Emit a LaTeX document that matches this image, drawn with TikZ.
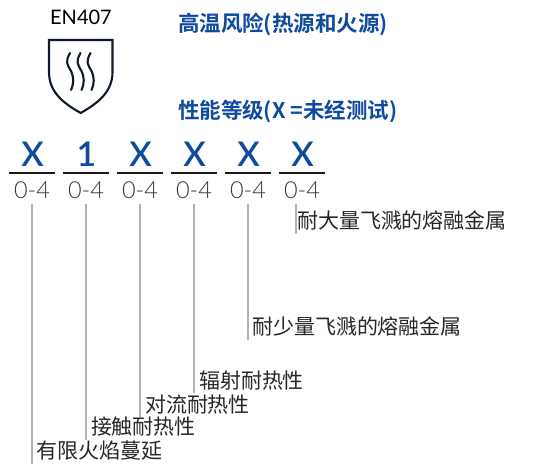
\documentclass[tikz,border=0pt]{standalone}
\usepackage{fontspec}
\setmainfont{Lato}
\newfontfamily\cjk{Noto Sans CJK SC}
\newfontfamily\cjkb{Noto Sans CJK SC Bold}
\newfontfamily\latolight{Lato Light}
\newfontfamily\latosemi{Lato Semibold}
\definecolor{enblue}{HTML}{0F4A9E}
\definecolor{engrey}{HTML}{ABB5BF}
\definecolor{enink}{HTML}{0E1A2B}
\tikzset{
  every node/.style={inner sep=0pt,outer sep=0pt},
  titletext/.style={anchor=base west,text=enblue,font=\cjkb\fontsize{21.5}{24}\selectfont},
  grade/.style={anchor=base,text=enblue,font=\latosemi\fontsize{34}{36}\selectfont},
  rangetext/.style={anchor=base,text=black!78,font=\latolight\fontsize{23.5}{26}\selectfont},
  labeltext/.style={anchor=base west,text=black!85,font=\cjk\fontsize{21}{24}\selectfont},
  rule/.style={line width=1.9pt,black!90},
  leader/.style={line width=1.5pt,engrey},
  shieldline/.style={line width=2.1pt,enink,line join=miter},
  heatline/.style={line width=2.1pt,enink,line cap=round}
}
\begin{document}
\begin{tikzpicture}[x=1pt,y=-1pt]
\useasboundingbox (0,0) rectangle (550,467);
\node[anchor=base,font=\fontsize{20}{22}\selectfont,text=black] (en) at (81,24) {EN407};
% shield
\draw[shieldline] (49,40) -- (112.5,40) -- (112.5,72) .. controls (112.5,92) and (98,103) .. (80.7,113) .. controls (63,103) and (49,92) .. (49,72) -- cycle;
\foreach \x in {70,80.5,90.5}{
  \draw[heatline] (\x,53) .. controls ([xshift=-5pt]\x,62) and ([xshift=-3pt]\x,64) .. ([xshift=1pt]\x,71) .. controls ([xshift=4pt]\x,78) and ([xshift=4pt]\x,83) .. ([xshift=1pt]\x,90);
}
\node[titletext] (t1) at (178,31) {高温风险(热源和火源)};
\node[titletext] (t2) at (178,118) {性能等级(X =未经测试)};
% grades
\foreach \i/\x/\g in {1/32/X,2/86/1,3/140/X,4/194/X,5/248/X,6/302/X}{
  \node[grade] (g\i) at (\x+0.5,166) {\g};
  \draw[rule] (\x-23,172.7) -- (\x+23,172.7);
  \node[rangetext] (r\i) at (\x,198) {0-4};
}
% labels
\node[labeltext] (l6) at (297,228) {耐大量飞溅的熔融金属};
\node[labeltext] (l5) at (252,334.5) {耐少量飞溅的熔融金属};
\node[labeltext] (l4) at (199,388) {辐射耐热性};
\node[labeltext] (l3) at (145,412) {对流耐热性};
\node[labeltext] (l2) at (91,434) {接触耐热性};
\node[labeltext] (l1) at (37,458) {有限火焰蔓延};
% leaders
\foreach \i/\x/\e in {1/32/464,2/86/440,3/140/417,4/194/393,5/248/340,6/296/234}{
  \coordinate (a\i) at (\x,204);
  \coordinate (b\i) at (\x,\e);
  \draw[leader] (a\i) -- (b\i);
}
\end{tikzpicture}
\end{document}
